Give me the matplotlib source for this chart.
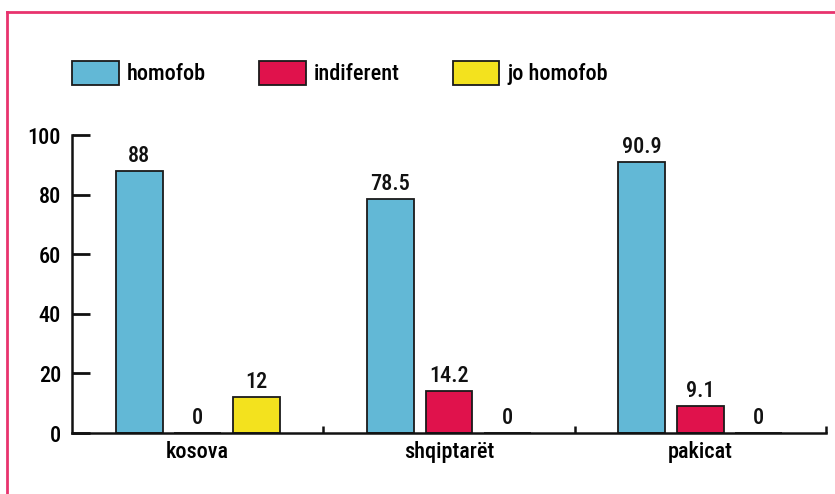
import matplotlib
matplotlib.use("Agg")
import matplotlib.pyplot as plt
from matplotlib.lines import Line2D
from matplotlib import font_manager as fm
import numpy as np

categories = ["kosova", "shqiptarët", "pakicat"]
series_names = ["homofob", "indiferent", "jo homofob"]
homofob = [88, 78.5, 90.9]
indiferent = [0, 14.2, 9.1]
jo_homofob = [12, 0, 0]
value_labels = [["88", "78.5", "90.9"], ["0", "14.2", "9.1"], ["12", "0", "0"]]
yticks = [0, 20, 40, 60, 80, 100]

colors = ["#62b8d6", "#e0124c", "#f3e21e"]

avail = {f.name for f in fm.fontManager.ttflist}
fam = next((f for f in ["Roboto Condensed", "Archivo Narrow", "Asap Condensed", "Liberation Sans"] if f in avail), "DejaVu Sans")
plt.rcParams["font.family"] = [fam, "DejaVu Sans"]
plt.rcParams["font.weight"] = 500
FS = 16

fig = plt.figure(figsize=(8.35, 4.94), dpi=100)
fig.patch.set_facecolor("white")
ax = fig.add_axes([72/835, 1-433/494, (826-72)/835, (433-135)/494])

x = np.arange(len(categories))
w = 0.187
off = 0.233
data = [homofob, indiferent, jo_homofob]
handles = []
for i, (vals, c) in enumerate(zip(data, colors)):
    bars = ax.bar(x + (i-1)*off, vals, w, color=c, edgecolor="#1a1a1a", linewidth=1.3, zorder=2)
    handles.append(bars)
    for b, lab in zip(bars, value_labels[i]):
        ax.annotate(lab, (b.get_x()+b.get_width()/2, b.get_height()), xytext=(0, 3),
                    textcoords="offset points", ha="center", va="bottom", fontsize=FS, color="#111")

ax.set_xlim(-0.5, 2.5)
ax.set_ylim(0, 100)
ax.set_yticks(yticks)
ax.set_yticklabels([str(t) for t in yticks], fontsize=FS)
ax.set_xticks(x)
ax.set_xticklabels(categories, fontsize=FS)
ax.set_xticks([0.5, 1.5, 2.5], minor=True)
ax.tick_params(axis="x", which="major", length=0, pad=6)
ax.tick_params(axis="x", which="minor", direction="in", length=5, width=1.8, color="#111")
ax.tick_params(axis="y", direction="in", length=13, width=2, color="#111", pad=8)
for s in ["top", "right"]:
    ax.spines[s].set_visible(False)
for s in ["left", "bottom"]:
    ax.spines[s].set_linewidth(1.8)
    ax.spines[s].set_color("#111")

fig.legend(handles, series_names, loc="center left", bbox_to_anchor=(72/835, 1-73/494),
           ncol=3, frameon=False, fontsize=FS, handlelength=2.1, handleheight=1.35,
           handletextpad=0.35, columnspacing=2.4, borderaxespad=0, borderpad=0)

border = "#e8336e"
fig.add_artist(Line2D([7/835, 7/835], [0, 1-12/494], transform=fig.transFigure, color=border, lw=2))
fig.add_artist(Line2D([7/835, 1], [1-12/494, 1-12/494], transform=fig.transFigure, color=border, lw=2))

fig.savefig("out.png", dpi=100, facecolor="white")
